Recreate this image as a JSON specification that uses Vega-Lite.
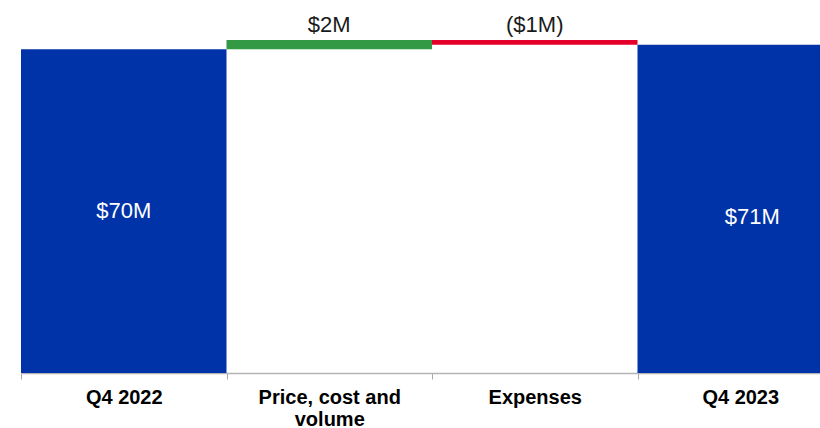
{
  "$schema": "https://vega.github.io/schema/vega-lite/v6.json",
  "width": 822,
  "height": 333,
  "autosize": {"type": "none"},
  "padding": {"left": 21, "top": 40, "right": 0, "bottom": 55},
  "background": "white",
  "config": {"view": {"stroke": null}, "font": "Liberation Sans"},
  "data": {
    "values": [
      {"category": "Q4 2022", "start": 0, "end": 70, "label": "$70M", "kind": "total"},
      {"category": "Price, cost and volume", "start": 70, "end": 72, "label": "$2M", "kind": "up"},
      {"category": "Expenses", "start": 72, "end": 71, "label": "($1M)", "kind": "down"},
      {"category": "Q4 2023", "start": 0, "end": 71, "label": "$71M", "kind": "total2"}
    ]
  },
  "transform": [
    {"calculate": "datum.kind == 'total' || datum.kind == 'total2' ? (datum.start + datum.end) / 2 : max(datum.start, datum.end)", "as": "labelY"}
  ],
  "encoding": {
    "x": {
      "field": "category",
      "type": "nominal",
      "sort": null,
      "scale": {"paddingInner": 0, "paddingOuter": 0},
      "axis": {
        "title": null,
        "labelAngle": 0,
        "labelFont": "Liberation Sans",
        "labelFontSize": 20,
        "labelFontWeight": "bold",
        "labelColor": "#000000",
        "labelLineHeight": 22,
        "labelPadding": 8,
        "labelExpr": "datum.label == 'Price, cost and volume' ? ['Price, cost and', 'volume'] : datum.label",
        "domainColor": "#b4b4b4",
        "domainWidth": 1.5,
        "tickColor": "#a8a8a8",
        "tickSize": 6,
        "tickBand": "extent",
        "labelBound": false,
        "labelOverlap": false
      }
    }
  },
  "layer": [
    {
      "mark": {"type": "bar", "stroke": null},
      "encoding": {
        "y": {"field": "start", "type": "quantitative", "scale": {"domain": [0, 72], "nice": false, "zero": true}, "axis": null},
        "y2": {"field": "end"},
        "color": {
          "field": "kind",
          "type": "nominal",
          "scale": {"domain": ["total", "up", "down", "total2"], "range": ["#0033a8", "#339944", "#e4002b", "#0033a8"]},
          "legend": null
        }
      }
    },
    {
      "transform": [{"filter": "datum.kind == 'total'"}],
      "mark": {"type": "text", "color": "white", "fontSize": 22, "font": "Liberation Sans", "baseline": "middle", "align": "center"},
      "encoding": {
        "y": {"field": "labelY", "type": "quantitative"},
        "text": {"field": "label"}
      }
    },
    {
      "transform": [{"filter": "datum.kind == 'total2'"}],
      "mark": {"type": "text", "color": "white", "fontSize": 22, "font": "Liberation Sans", "baseline": "middle", "align": "center", "dx": 12, "dy": 8},
      "encoding": {
        "y": {"field": "labelY", "type": "quantitative"},
        "text": {"field": "label"}
      }
    },
    {
      "transform": [{"filter": "datum.kind == 'up' || datum.kind == 'down'"}],
      "mark": {"type": "text", "color": "#1a1a1a", "fontSize": 22, "font": "Liberation Sans", "baseline": "alphabetic", "align": "center", "dy": -8},
      "encoding": {
        "y": {"field": "labelY", "type": "quantitative"},
        "text": {"field": "label"}
      }
    }
  ]
}
